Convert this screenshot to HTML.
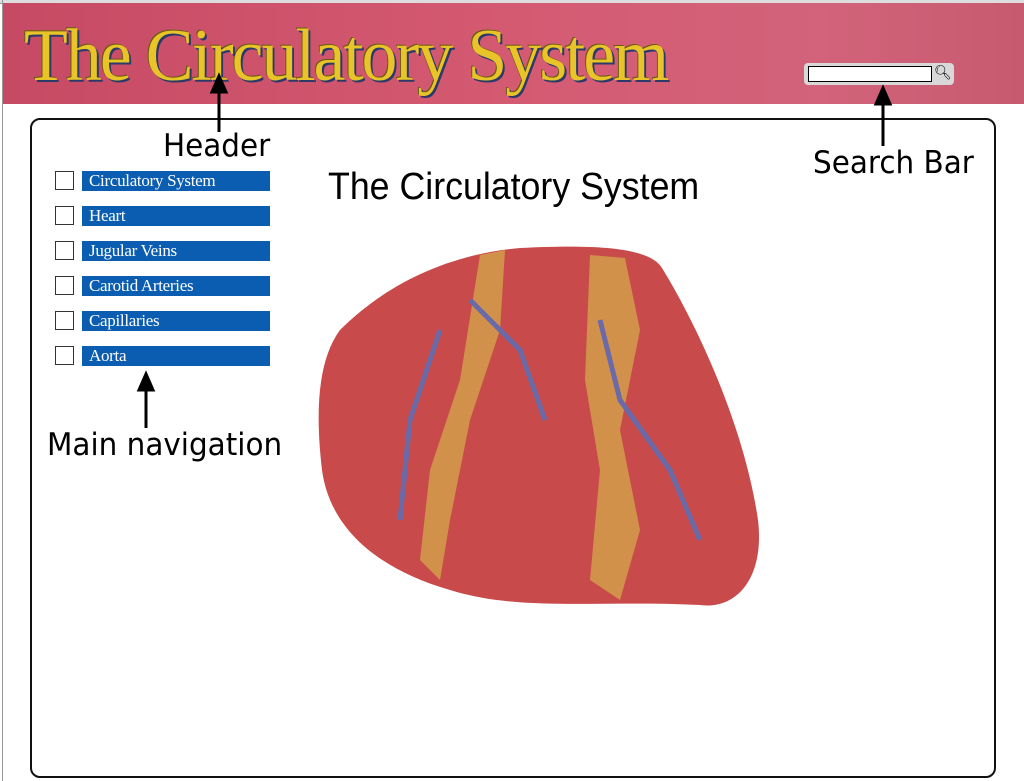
<!DOCTYPE html>
<html><head><meta charset="utf-8"><style>
body{margin:0;width:1024px;height:781px;background:#fff;position:relative;overflow:hidden;font-family:"Liberation Sans",sans-serif}
.hdr{position:absolute;left:3px;top:3px;width:1021px;height:101px;background:linear-gradient(90deg,#c64a63 0%,#d45a72 50%,#d2637a 80%,#c85a70 100%)}
.topbar{position:absolute;left:0;top:0;width:1024px;height:3px;background:#ddd;border-bottom:1px solid #999}
.title{position:absolute;left:24px;top:14px;font-family:"Liberation Serif",serif;font-size:74px;color:#e8c428;letter-spacing:-2px;text-shadow:2px 2px 0 #2a3a6a,-1px -1px 0 #6a5a10;transform:scaleX(0.97);transform-origin:left}
.sb{position:absolute;left:804px;top:63px;width:150px;height:22px;background:#d8d8d8;border-radius:4px}
.sb i{position:absolute;left:4px;top:3px;width:122px;height:14px;background:#fff;border:1px solid #000}
.box{position:absolute;left:30px;top:118px;width:962px;height:656px;border:2px solid #111;border-radius:10px}
.lbl{position:absolute;font-size:31px;color:#000;font-family:"DejaVu Sans","Liberation Sans",sans-serif;transform:scaleX(0.95);transform-origin:left}
.nav{position:absolute;left:55px}
.nav b{position:absolute;left:0;top:0;width:17px;height:17px;border:1.5px solid #333}
.nav span{position:absolute;left:27px;top:0;width:188px;height:20px;background:#0a5db0;color:#fff;font-family:"Liberation Serif",serif;font-size:17px;line-height:20px;padding-left:7px;box-sizing:border-box;letter-spacing:-0.3px}
.h2{position:absolute;left:328px;top:166px;font-size:38px;transform:scaleX(0.94);transform-origin:left}
</style></head><body>
<div class="topbar"></div>
<div class="hdr"></div>
<div class="title">The Circulatory System</div>
<div class="sb"><i></i><span style="position:absolute;left:130px;top:1px;font-size:14px">&#x1F50D;&#xFE0E;</span></div>
<div style="position:absolute;left:2px;top:0;width:1px;height:781px;background:#999"></div>
<div class="box"></div>
<svg style="position:absolute;left:0;top:0" width="1024" height="781">
<g stroke="#000" stroke-width="3" fill="#000">
<line x1="219" y1="132" x2="219" y2="88"/><polygon points="212,92 219,76 226,92"/>
<line x1="883" y1="146" x2="883" y2="100"/><polygon points="876,104 883,88 890,104"/>
<line x1="146" y1="428" x2="146" y2="386"/><polygon points="139,390 146,374 153,390"/>
</g>
<path d="M340,330 C380,290 440,255 520,248 C600,244 650,248 662,268 C700,330 745,430 758,520 C765,580 735,610 700,605 C600,600 520,612 450,590 C380,570 330,530 322,470 C315,410 318,360 340,330Z" fill="#c84a4a"/>
<path d="M480,255 L505,250 L500,330 L470,420 L450,520 L440,580 L420,560 L430,470 L460,380Z" fill="#d4a24a" opacity=".8"/>
<path d="M590,255 L625,258 L640,330 L620,430 L640,530 L620,600 L590,580 L600,470 L585,380Z" fill="#d4a24a" opacity=".8"/>
<path d="M470,300 L520,350 L545,420 M600,320 L620,400 L670,470 L700,540 M440,330 L410,420 L400,520" stroke="#6a6aa8" stroke-width="5" fill="none"/>
</svg>
<div class="lbl" style="left:163px;top:128px">Header</div>
<div class="lbl" style="left:813px;top:145px">Search Bar</div>
<div class="lbl" style="left:47px;top:427px">Main navigation</div>
<div class="h2">The Circulatory System</div>
<div class="nav" style="top:171px"><b></b><span>Circulatory System</span></div>
<div class="nav" style="top:206px"><b></b><span>Heart</span></div>
<div class="nav" style="top:241px"><b></b><span>Jugular Veins</span></div>
<div class="nav" style="top:276px"><b></b><span>Carotid Arteries</span></div>
<div class="nav" style="top:311px"><b></b><span>Capillaries</span></div>
<div class="nav" style="top:346px"><b></b><span>Aorta</span></div>
</body></html>
